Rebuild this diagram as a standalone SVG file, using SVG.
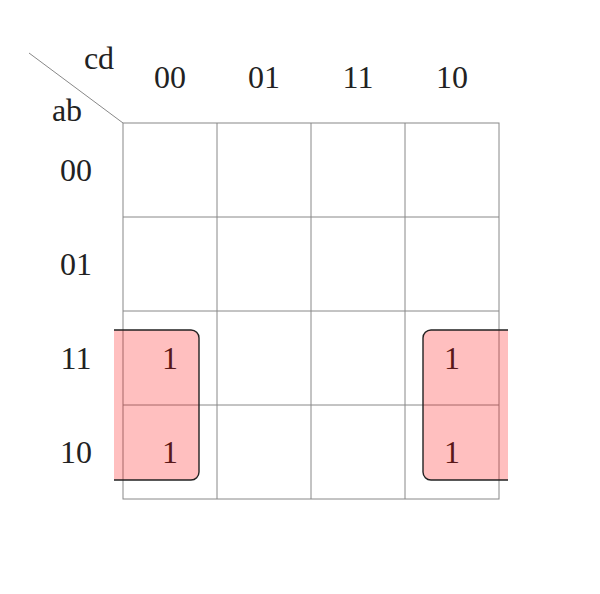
<svg xmlns="http://www.w3.org/2000/svg" width="600" height="594" viewBox="0 0 600 594">
<style>
text{font-family:"Liberation Serif","DejaVu Serif",serif;font-size:32px;fill:#222;text-anchor:middle}
.g{stroke:#888;stroke-width:1;fill:none}
.r{fill:#ff0000;fill-opacity:0.25;stroke:#222;stroke-width:1.4}
</style>
<rect width="600" height="594" fill="#fff"/>
<g id="grid">
<rect class="g" x="123" y="123" width="376" height="376"/>
<path class="g" d="M217,123V499M311,123V499M405,123V499M123,217H499M123,311H499M123,405H499"/>
<line class="g" x1="29" y1="53" x2="123" y2="123"/>
</g>
<g id="labels">
<text x="99" y="69">cd</text>
<text x="67" y="121">ab</text>
<text x="170" y="88">00</text>
<text x="264" y="88">01</text>
<text x="358" y="88">11</text>
<text x="452" y="88">10</text>
<text x="76" y="181">00</text>
<text x="76" y="275">01</text>
<text x="76" y="369">11</text>
<text x="76" y="463">10</text>
</g>
<g id="cells">
<text x="170" y="369">1</text>
<text x="170" y="463">1</text>
<text x="452" y="369">1</text>
<text x="452" y="463">1</text>
</g>
<g id="groups">
<path class="r" d="M114,330H191A8,8 0 0 1 199,338V472A8,8 0 0 1 191,480H114"/>
<path class="r" d="M508,330H431A8,8 0 0 0 423,338V472A8,8 0 0 0 431,480H508"/>
</g>
</svg>
